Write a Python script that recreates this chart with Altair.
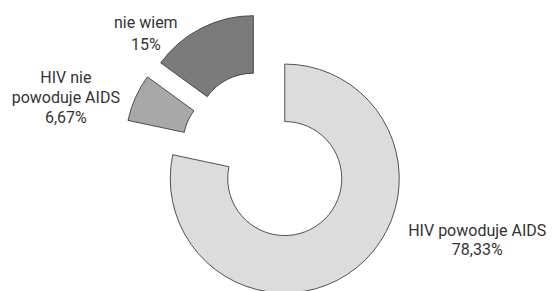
import altair as alt
import pandas as pd

# ---- data ----
categories = ["HIV powoduje AIDS", "HIV nie powoduje AIDS", "nie wiem"]
values = [78.33, 6.67, 15.0]
value_labels = ["78,33%", "6,67%", "15%"]
name_labels = ["HIV powoduje AIDS", "HIV nie\npowoduje AIDS", "nie wiem"]
order = [1, 2, 3]

# ---- styles ----
colors = ["#dcdcdc", "#a8a8a8", "#7b7b7b"]
CX, CY = 258.5, 148.0      # pie centre inside the view (px)
EXPLODE = 29               # radial offset of each slice (px)
R_OUT, R_IN = 114.5, 57.0
FONT = "Roboto"

df = pd.DataFrame({
    "cat": categories,
    "value": values,
    "order": order,
    "label": [n + "\n" + v for n, v in zip(name_labels, value_labels)],
})

base = alt.Chart(df).transform_window(
    cum="sum(value)", sort=[alt.SortField("order")],
    frame=[None, 0]
).transform_joinaggregate(
    total="sum(value)"
).transform_calculate(
    start="(datum.cum - datum.value) / datum.total * 2 * PI",
    end="datum.cum / datum.total * 2 * PI",
).transform_calculate(
    mid="(datum.start + datum.end) / 2",
).transform_calculate(
    cx=f"{CX} + {EXPLODE} * sin(datum.mid)",
    cy=f"{CY} - {EXPLODE} * cos(datum.mid)",
)

arcs = base.mark_arc(
    radius=R_OUT, radius2=R_IN, stroke="#2a2a2a", strokeWidth=0.8
).encode(
    theta=alt.Theta("start:Q", scale=None, stack=False),
    theta2="end:Q",
    x=alt.X("cx:Q", scale=None, axis=None),
    y=alt.Y("cy:Q", scale=None, axis=None),
    color=alt.Color("cat:N", scale=alt.Scale(domain=categories, range=colors), legend=None),
)

label_style = [
    # (category, dx, dy, lineHeight)
    (categories[0], 192.5, 57.2, 19),
    (categories[1], -174.2, -60.9, 19.7),
    (categories[2], -107.5, -101.9, 21.5),
]

texts = []
for cat, dx, dy, lh in label_style:
    texts.append(
        base.transform_filter(alt.datum.cat == cat).mark_text(
            font=FONT, fontSize=16, color="#333333", align="center",
            baseline="alphabetic", lineBreak="\n", lineHeight=lh, dx=dx, dy=dy,
        ).encode(
            x=alt.X("cx:Q", scale=None, axis=None),
            y=alt.Y("cy:Q", scale=None, axis=None),
            text="label:N",
        )
    )

chart = alt.layer(arcs, *texts).properties(
    width=538, height=283, padding=0, autosize="none"
).configure_view(stroke=None)

chart.save("out.html", embed_options={"renderer": "svg", "actions": False})
